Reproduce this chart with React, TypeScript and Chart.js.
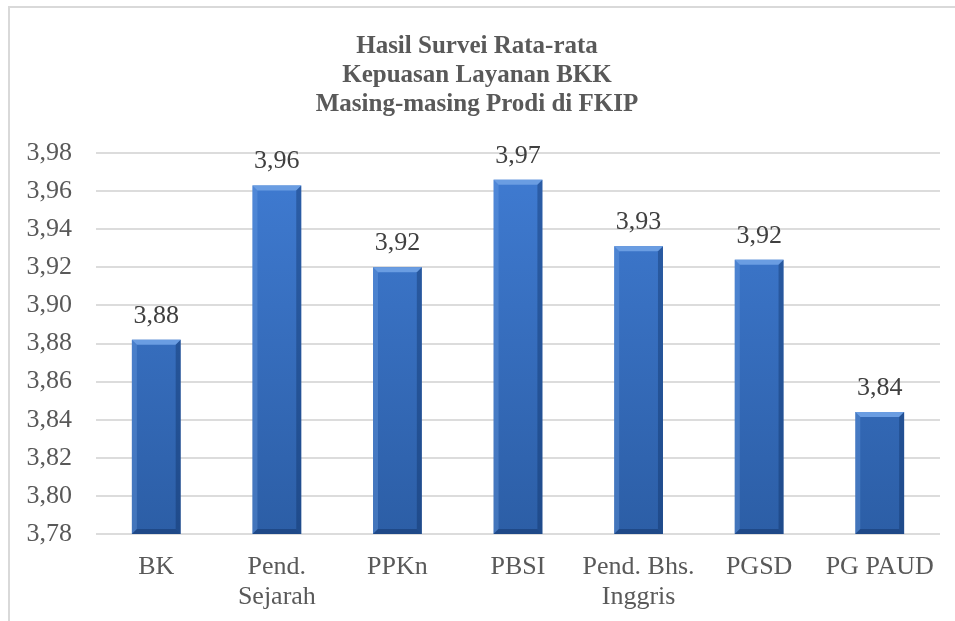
import React, { useEffect, useRef } from "react";
import { Chart, registerables } from "chart.js";

Chart.register(...registerables);

const categories: (string | string[])[] = [
  "BK",
  ["Pend.", "Sejarah"],
  "PPKn",
  "PBSI",
  ["Pend. Bhs.", "Inggris"],
  "PGSD",
  "PG PAUD",
];
const values: number[] = [3.882, 3.963, 3.92, 3.966, 3.931, 3.924, 3.844];
const titleLines: string[] = [
  "Hasil Survei Rata-rata",
  "Kepuasan Layanan BKK",
  "Masing-masing Prodi di FKIP",
];
const yMin = 3.78;
const yMax = 3.98;
const yStep = 0.02;

const FONT = '"Liberation Serif", "Times New Roman", serif';

const fmt = (v: number) => Number(v).toFixed(2).replace(".", ",");

const framePlugin = {
  id: "frame",
  beforeDraw(chart: any) {
    const ctx = chart.ctx;
    ctx.save();
    ctx.fillStyle = "#ffffff";
    ctx.fillRect(0, 0, chart.width, chart.height);
    ctx.strokeStyle = "#d9d9d9";
    ctx.lineWidth = 2;
    ctx.beginPath();
    ctx.moveTo(9, chart.height);
    ctx.lineTo(9, 7);
    ctx.lineTo(chart.width, 7);
    ctx.stroke();
    ctx.restore();
  },
};

const titlePlugin = {
  id: "titleLines",
  afterDraw(chart: any) {
    const ctx = chart.ctx;
    ctx.save();
    ctx.font = `bold 25px ${FONT}`;
    ctx.fillStyle = "#595959";
    ctx.textAlign = "center";
    ctx.textBaseline = "alphabetic";
    titleLines.forEach((t, i) => {
      ctx.fillText(t, 477, 53 + i * 29);
    });
    ctx.restore();
  },
};

const barStylePlugin = {
  id: "barStyle",
  afterDatasetsDraw(chart: any) {
    const ctx = chart.ctx;
    const meta = chart.getDatasetMeta(0);
    const bottom = chart.chartArea.bottom;
    ctx.save();
    meta.data.forEach((bar: any, i: number) => {
      const { x, y, width } = bar.getProps(["x", "y", "width"], true);
      const base = bottom;
      const l = x - width / 2;
      const r = x + width / 2;
      const b = 5;
      // top bevel
      ctx.fillStyle = "#6a9de2";
      ctx.beginPath();
      ctx.moveTo(l, y);
      ctx.lineTo(r, y);
      ctx.lineTo(r - b, y + b);
      ctx.lineTo(l + b, y + b);
      ctx.closePath();
      ctx.fill();
      // left bevel
      ctx.fillStyle = "rgba(120,170,235,0.3)";
      ctx.beginPath();
      ctx.moveTo(l, y);
      ctx.lineTo(l + b, y + b);
      ctx.lineTo(l + b, base - b);
      ctx.lineTo(l, base);
      ctx.closePath();
      ctx.fill();
      // right bevel
      ctx.fillStyle = "rgba(10,40,90,0.35)";
      ctx.beginPath();
      ctx.moveTo(r, y);
      ctx.lineTo(r - b, y + b);
      ctx.lineTo(r - b, base - b);
      ctx.lineTo(r, base);
      ctx.closePath();
      ctx.fill();
      // bottom bevel
      ctx.fillStyle = "rgba(10,35,80,0.35)";
      ctx.beginPath();
      ctx.moveTo(l, base);
      ctx.lineTo(l + b, base - b);
      ctx.lineTo(r - b, base - b);
      ctx.lineTo(r, base);
      ctx.closePath();
      ctx.fill();

      // data label
      ctx.font = `26px ${FONT}`;
      ctx.fillStyle = "#404040";
      ctx.textAlign = "center";
      ctx.textBaseline = "alphabetic";
      ctx.fillText(fmt(values[i]), x, y - 17);
    });
    ctx.restore();
  },
};

export default function App() {
  const ref = useRef<HTMLCanvasElement | null>(null);

  useEffect(() => {
    document.body.style.margin = "0";
    const canvas = ref.current;
    if (!canvas) return;
    const chart = new Chart(canvas, {
      type: "bar",
      data: {
        labels: categories,
        datasets: [
          {
            data: values,
            backgroundColor: (c: any) => {
              const area = c.chart.chartArea;
              if (!area) return "#3a70c0";
              const g = c.chart.ctx.createLinearGradient(0, area.top, 0, area.bottom);
              g.addColorStop(0, "#407cd3");
              g.addColorStop(1, "#2c5ea6");
              return g;
            },
            borderWidth: 0,
            barPercentage: 0.405,
            categoryPercentage: 1,
          },
        ],
      },
      options: {
        responsive: false,
        animation: false,
        layout: { padding: { left: 10, right: 15, top: 153, bottom: 0 } },
        plugins: {
          legend: { display: false },
          title: { display: false },
          tooltip: { enabled: false },
        },
        scales: {
          x: {
            grid: { display: false, drawTicks: false },
            border: { display: false },
            ticks: {
              color: "#595959",
              font: { family: FONT, size: 26, lineHeight: 1.15 },
              padding: 18,
              maxRotation: 0,
              autoSkip: false,
            },
            afterFit: (scale: any) => {
              scale.height = 87;
            },
          },
          y: {
            min: yMin,
            max: yMax,
            grid: { color: "#dcdcdc", lineWidth: 2, drawTicks: false },
            border: { display: false },
            ticks: {
              stepSize: yStep,
              color: "#595959",
              font: { family: FONT, size: 26 },
              padding: 24,
              callback: (v: any) => fmt(Number(v)),
            },
            afterFit: (scale: any) => {
              scale.width = 86;
            },
          },
        },
      },
      plugins: [framePlugin, barStylePlugin, titlePlugin],
    });
    return () => chart.destroy();
  }, []);

  return <canvas ref={ref} width={955} height={621} style={{ display: "block" }} />;
}
